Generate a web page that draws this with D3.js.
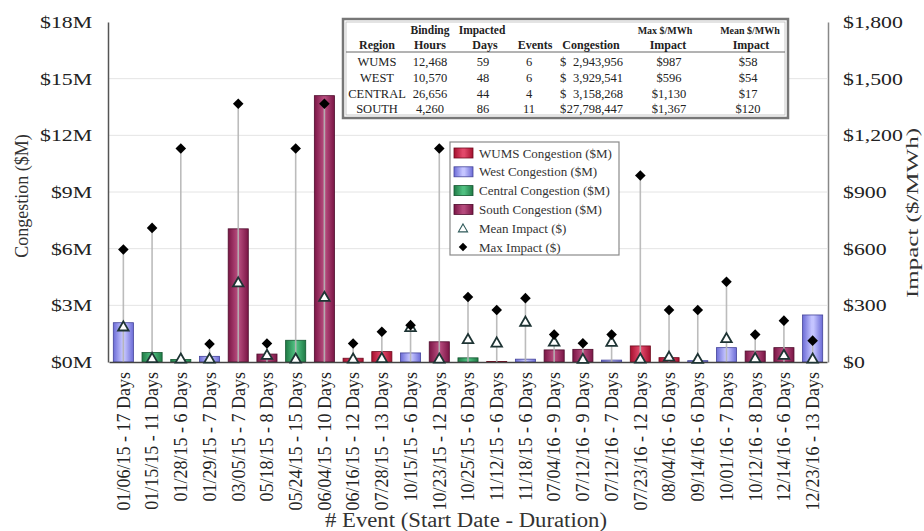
<!DOCTYPE html>
<html>
<head>
<meta charset="utf-8">
<script src="https://cdn.jsdelivr.net/npm/d3@7/dist/d3.min.js"></script>
<style>
  html, body { margin: 0; padding: 0; background: #fff; }
  svg { display: block; }
  text { font-family: "Liberation Serif", "Times New Roman", serif; }
</style>
</head>
<body>
<svg id="chart" width="924" height="531"></svg>
<script>
// ---------------- DATA ----------------
const events = ["01/06/15 - 17 Days","01/15/15 - 11 Days","01/28/15 - 6 Days","01/29/15 - 7 Days",
  "03/05/15 - 7 Days","05/18/15 - 8 Days","05/24/15 - 15 Days","06/04/15 - 10 Days",
  "06/16/15 - 12 Days","07/28/15 - 13 Days","10/15/15 - 6 Days","10/23/15 - 12 Days",
  "10/25/15 - 6 Days","11/12/15 - 6 Days","11/18/15 - 6 Days","07/04/16 - 9 Days",
  "07/12/16 - 9 Days","07/12/16 - 7 Days","07/23/16 - 12 Days","08/04/16 - 6 Days",
  "09/14/16 - 6 Days","10/01/16 - 7 Days","10/12/16 - 8 Days","12/14/16 - 6 Days","12/23/16 - 13 Days"];
const eventRegion = ["West","Central","Central","West","South","South","Central","South",
  "WUMS","WUMS","West","South","Central","WUMS","West","South",
  "South","West","WUMS","WUMS","West","West","South","South","West"];
const congestionM = [2.08,0.5,0.13,0.3,7.05,0.42,1.15,14.1,0.2,0.55,0.48,1.07,0.22,0.03,0.15,0.64,
  0.67,0.1,0.85,0.23,0.07,0.76,0.58,0.76,2.49];
const meanImpact = [175,8,5,5,408,25,5,332,5,8,172,5,108,90,200,95,3,94,5,15,3,113,8,25,5];
const maxImpact = [596,710,1130,95,1367,98,1130,1367,98,160,195,1130,344,275,338,145,99,145,987,275,275,425,145,219,113];

const leftTicks = [0,3,6,9,12,15,18];
const rightTicks = [0,300,600,900,1200,1500,1800];

const regionKeys = ["WUMS","West","Central","South"];
const legendLabels = ["WUMS Congestion ($M)","West Congestion ($M)","Central Congestion ($M)","South Congestion ($M)","Mean Impact ($)","Max Impact ($)"];

const tableRegions = ["WUMS","WEST","CENTRAL","SOUTH"];
const tableHours = ["12,468","10,570","26,656","4,260"];
const tableDays = ["59","48","44","86"];
const tableEvents = ["6","6","4","11"];
const tableCongestion = ["2,943,956","3,929,541","3,158,268","27,798,447"];
const tableMax = ["$987","$596","$1,130","$1,367"];
const tableMean = ["$58","$54","$17","$120"];

// ---------------- STYLE ----------------
const regionColors = {
  WUMS:    {edge:"#a5102e", mid:"#e2486a", stroke:"#6e0a1e"},
  West:    {edge:"#6b6bd6", mid:"#c4c4ff", stroke:"#44449a"},
  Central: {edge:"#1f7a45", mid:"#4fbf80", stroke:"#145530"},
  South:   {edge:"#7a1545", mid:"#b54a7c", stroke:"#4e0c2c"}
};

const svg = d3.select("#chart");
svg.append("rect").attr("width",924).attr("height",531).attr("fill","#fff");

const defs = svg.append("defs");
regionKeys.forEach(k => {
  const g = defs.append("linearGradient").attr("id","grad-"+k).attr("x1","0").attr("x2","1").attr("y1","0").attr("y2","0");
  g.append("stop").attr("offset","0%").attr("stop-color",regionColors[k].edge);
  g.append("stop").attr("offset","45%").attr("stop-color",regionColors[k].mid);
  g.append("stop").attr("offset","55%").attr("stop-color",regionColors[k].mid);
  g.append("stop").attr("offset","100%").attr("stop-color",regionColors[k].edge);
});

const plot = {left:109, right:827, top:22, bottom:362};

const x = d3.scaleBand().domain(events).range([plot.left, plot.right]).paddingInner(0.3).paddingOuter(0.15);
const yL = d3.scaleLinear().domain([0,18]).range([plot.bottom, plot.top]);
const yR = d3.scaleLinear().domain([0,1800]).range([plot.bottom, plot.top]);

// gridlines
svg.append("g").selectAll("line").data(leftTicks.filter(d => d > 0 && d < 18)).join("line")
  .attr("x1", plot.left).attr("x2", plot.right)
  .attr("y1", d => yL(d)).attr("y2", d => yL(d))
  .attr("stroke","#e4e4e4").attr("stroke-width",1);

// bars
svg.append("g").selectAll("rect").data(events).join("rect")
  .attr("x", d => x(d))
  .attr("width", x.bandwidth())
  .attr("y", (d,i) => yL(congestionM[i]))
  .attr("height", (d,i) => yL(0) - yL(congestionM[i]))
  .attr("fill", (d,i) => `url(#grad-${eventRegion[i]})`)
  .attr("stroke", (d,i) => regionColors[eventRegion[i]].stroke)
  .attr("stroke-width", 0.8);

// impact lines
svg.append("g").selectAll("line").data(events).join("line")
  .attr("x1", d => x(d) + x.bandwidth()/2).attr("x2", d => x(d) + x.bandwidth()/2)
  .attr("y1", yR(0)).attr("y2", (d,i) => yR(maxImpact[i]))
  .attr("stroke","#b5b5b5").attr("stroke-width",1.6).attr("stroke-opacity",0.9);

// axes
const fontStretch = 1.28;
function stretchText(sel, factor) {
  sel.each(function() {
    const len = this.getComputedTextLength();
    d3.select(this).attr("textLength", len*factor).attr("lengthAdjust","spacingAndGlyphs");
  });
}

const axL = svg.append("g").attr("transform",`translate(${plot.left-1},0)`)
  .call(d3.axisLeft(yL).tickValues(leftTicks).tickFormat(d => `$${d}M`).tickSize(0).tickPadding(16));
axL.select(".domain").attr("stroke","#555").attr("stroke-width",1.5);
axL.selectAll("text").attr("font-size",17).attr("fill","#222").attr("font-family","Liberation Serif, serif");
stretchText(axL.selectAll("text"), fontStretch);

const axR = svg.append("g").attr("transform",`translate(${plot.right+1},0)`)
  .call(d3.axisRight(yR).tickValues(rightTicks).tickFormat(d3.format("$,")).tickSize(0).tickPadding(15));
axR.select(".domain").attr("stroke","#888").attr("stroke-width",1.5);
axR.selectAll("text").attr("font-size",17).attr("fill","#222").attr("font-family","Liberation Serif, serif");
stretchText(axR.selectAll("text"), fontStretch);

const axB = svg.append("g").attr("transform",`translate(0,${plot.bottom})`)
  .call(d3.axisBottom(x).tickSize(0).tickSizeOuter(0));
axB.select(".domain").attr("stroke","#444").attr("stroke-width",1.5);
axB.selectAll("text")
  .attr("font-size",18).attr("fill","#222").attr("font-family","Liberation Serif, serif")
  .attr("transform","rotate(-90)")
  .attr("text-anchor","end")
  .attr("x",-10).attr("y",0).attr("dy","0.35em");

// axis titles
svg.append("text").attr("transform","translate(28,196) rotate(-90)")
  .attr("text-anchor","middle").attr("font-size",18).attr("fill","#333")
  .text("Congestion ($M)");
svg.append("text").attr("transform","translate(918,213) rotate(-90)")
  .attr("text-anchor","middle").attr("font-size",16).attr("fill","#333")
  .attr("textLength",170).attr("lengthAdjust","spacingAndGlyphs")
  .text("Impact ($/MWh)");
svg.append("text").attr("x",466).attr("y",527)
  .attr("text-anchor","middle").attr("font-size",20).attr("fill","#333")
  .attr("textLength",282).attr("lengthAdjust","spacingAndGlyphs")
  .text("# Event (Start Date - Duration)");

// markers
const triPath = d3.symbol(d3.symbolTriangle).size(48)();
const diaPath = d3.symbol(d3.symbolSquare).size(56)();

svg.append("g").selectAll("path").data(events).join("path")
  .attr("d", triPath)
  .attr("transform", (d,i) => `translate(${x(d)+x.bandwidth()/2},${yR(meanImpact[i]) - 1.5})`)
  .attr("fill","#fff").attr("stroke","#1e3434").attr("stroke-width",1.8);

svg.append("g").selectAll("path").data(events).join("path")
  .attr("d", diaPath)
  .attr("transform", (d,i) => `translate(${x(d)+x.bandwidth()/2},${yR(maxImpact[i])}) rotate(45)`)
  .attr("fill","#000");

// legend
const lg = svg.append("g");
lg.append("rect").attr("x",450).attr("y",142).attr("width",169).attr("height",113)
  .attr("fill","#fff").attr("stroke","#8a8a8a").attr("stroke-width",1.2);
const legendRows = lg.selectAll("g").data(legendLabels).join("g")
  .attr("transform",(d,i) => `translate(0,${153 + i*18.8})`);
legendRows.each(function(d,i) {
  const g = d3.select(this);
  if (i < 4) {
    const k = regionKeys[i];
    g.append("rect").attr("x",454).attr("y",-5).attr("width",19).attr("height",10)
      .attr("fill",`url(#grad-${k})`).attr("stroke",regionColors[k].stroke).attr("stroke-width",0.8);
  } else if (i === 4) {
    g.append("path").attr("d", d3.symbol(d3.symbolTriangle).size(36)()).attr("transform","translate(463,1)")
      .attr("fill","#fff").attr("stroke","#2f5a5a").attr("stroke-width",1.1);
  } else {
    g.append("path").attr("d", d3.symbol(d3.symbolSquare).size(36)()).attr("transform","translate(463,0) rotate(45)")
      .attr("fill","#000");
  }
  g.append("text").attr("x",479).attr("y",0).attr("dy","0.35em")
    .attr("font-size",13).attr("fill","#333").text(d);
});

// summary table
const tb = svg.append("g");
tb.append("rect").attr("x",343).attr("y",19).attr("width",445).attr("height",99)
  .attr("fill","#fff").attr("stroke","#777").attr("stroke-width",2.5);
tb.append("rect").attr("x",346).attr("y",22).attr("width",439).attr("height",93)
  .attr("fill","none").attr("stroke","#bbb").attr("stroke-width",0.8);
tb.append("line").attr("x1",346).attr("x2",785).attr("y1",52).attr("y2",52)
  .attr("stroke","#666").attr("stroke-width",1);

const hdr1 = [["Binding",430],["Impacted",482]];
const hdr1s = [["Max $/MWh",665],["Mean $/MWh",750]];
const hdr2 = [["Region",377],["Hours",430],["Days",485],["Events",535],["Congestion",591],["Impact",668],["Impact",751]];
hdr1.forEach(h => tb.append("text").attr("x",h[1]).attr("y",34).attr("text-anchor","middle")
  .attr("font-size",11.5).attr("font-weight","bold").attr("fill","#222").text(h[0]));
hdr1s.forEach(h => tb.append("text").attr("x",h[1]).attr("y",34).attr("text-anchor","middle")
  .attr("font-size",10).attr("font-weight","bold").attr("fill","#222").text(h[0]));
hdr2.forEach(h => tb.append("text").attr("x",h[1]).attr("y",49).attr("text-anchor","middle")
  .attr("font-size",12).attr("font-weight","bold").attr("fill","#222").text(h[0]));

const cols = [
  {vals: tableRegions, x: 377, anchor: "middle"},
  {vals: tableHours, x: 430, anchor: "middle"},
  {vals: tableDays, x: 483, anchor: "middle"},
  {vals: tableEvents, x: 529, anchor: "middle"},
  {vals: tableCongestion, x: 623, anchor: "end"},
  {vals: tableMax, x: 669, anchor: "middle"},
  {vals: tableMean, x: 748, anchor: "middle"}
];
const rowY = [66, 82, 97.5, 113];
cols.forEach(c => {
  c.vals.forEach((v,i) => tb.append("text").attr("x",c.x).attr("y",rowY[i]).attr("text-anchor",c.anchor)
    .attr("font-size",12.5).attr("fill","#222").text(v));
});
tableRegions.forEach((r,i) => tb.append("text").attr("x",563).attr("y",rowY[i]).attr("text-anchor","middle")
  .attr("font-size",12.5).attr("fill","#222").text("$"));
</script>
</body>
</html>
